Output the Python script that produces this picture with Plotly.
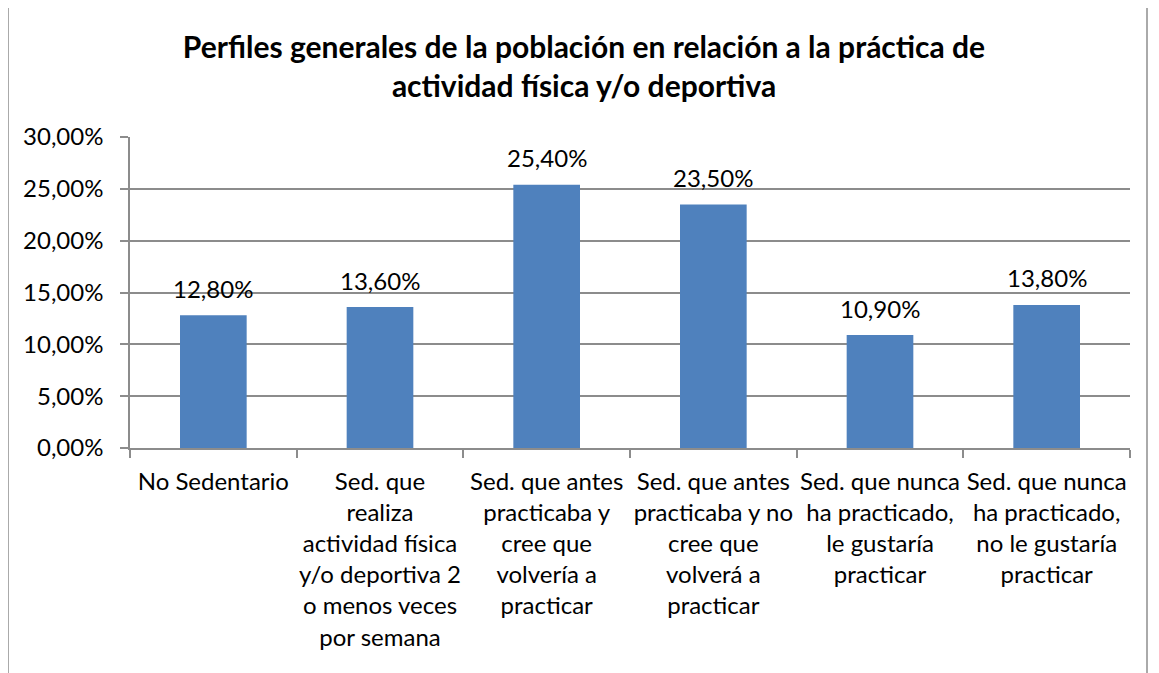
import plotly.graph_objects as go

categories = [
    "No Sedentario",
    "Sed. que<br>realiza<br>actividad física<br>y/o deportiva 2<br>o menos veces<br>por semana",
    "Sed. que antes<br>practicaba y<br>cree que<br>volvería a<br>practicar",
    "Sed. que antes<br>practicaba y no<br>cree que<br>volverá a<br>practicar",
    "Sed. que nunca<br>ha practicado,<br>le gustaría<br>practicar",
    "Sed. que nunca<br>ha practicado,<br>no le gustaría<br>practicar",
]
values = [0.128, 0.136, 0.254, 0.235, 0.109, 0.138]
title_text = ("Perfiles generales de la población en relación a la práctica de<br>"
              "actividad física y/o deportiva")

FONT = "Lato"
OFF = 8  # page body margin offset
W, H = 1159, 673
L, T = 130 - OFF, 137 - OFF
PW, PH = 1000, 311
R, B = W - L - PW, H - T - PH

fig = go.Figure()
fig.add_trace(go.Bar(
    x=categories, y=values,
    marker=dict(color="#4F81BD", line=dict(width=0)),
    hoverinfo="skip",
))

for c, v in zip(categories, values):
    fig.add_annotation(
        x=c, y=v, xref="x", yref="y",
        text=f"{v*100:.2f}%".replace(".", ","),
        showarrow=False, yanchor="middle", yshift=27,
        font=dict(family=FONT, size=24, color="#000000"),
    )

# outer chart border (page coords: left 8, top 5, right 1147)
fig.add_shape(
    type="rect", xref="paper", yref="paper",
    x0=(8 - 130) / PW, x1=(1147 - 130) / PW,
    y0=-1.0, y1=(448 - 5) / PH,
    line=dict(color="#8E8E8E", width=1.5), fillcolor="rgba(0,0,0,0)",
    layer="below",
)

fig.update_layout(
    width=W, height=H,
    margin=dict(l=L, r=R, t=T, b=B, pad=0, autoexpand=False),
    paper_bgcolor="white", plot_bgcolor="white",
    separators=",.",
    showlegend=False,
    bargap=0.6,
    font=dict(family=FONT, size=24, color="#000000"),
    title=dict(
        text=title_text, x=(584 - OFF) / W, xanchor="center",
        y=1 - 50 / H, yanchor="top", yref="container",
        font=dict(family=FONT, size=30, color="#000000", weight="bold"),
        automargin=False,
    ),
    xaxis=dict(
        type="category",
        showline=True, linecolor="#8C8C8C", linewidth=1.5,
        ticks="outside", tickson="boundaries", ticklen=8,
        tickcolor="#8C8C8C", tickwidth=1.5,
        showgrid=False, tickangle=0, automargin=False,
        tickfont=dict(family=FONT, size=24, color="#000000"),
        ticklabelstandoff=11,
    ),
    yaxis=dict(
        range=[0, 0.30], dtick=0.05, tickformat=".2%",
        showline=True, linecolor="#8C8C8C", linewidth=1.5,
        ticks="outside", ticklen=8, tickcolor="#8C8C8C", tickwidth=1.5,
        showgrid=True, gridcolor="#8C8C8C", gridwidth=1.5,
        zeroline=False, automargin=False,
        tickfont=dict(family=FONT, size=24, color="#000000"),
        ticklabelstandoff=12,
    ),
)

fig.write_html("out.html")
